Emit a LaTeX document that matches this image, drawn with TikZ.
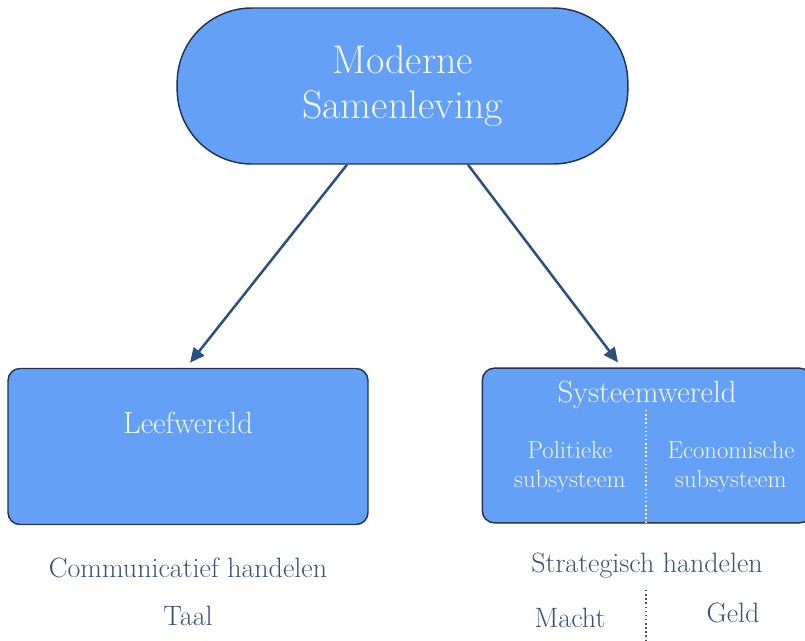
\documentclass[tikz,border=0pt]{standalone}
\usepackage{tikz}
\usetikzlibrary{arrows.meta,calc}

\definecolor{boxblue}{RGB}{100,160,246}
\definecolor{boxline}{RGB}{36,52,80}
\definecolor{arrowblue}{RGB}{46,79,127}
\definecolor{textblue}{RGB}{59,81,121}
\definecolor{paleword}{RGB}{244,246,250}

\tikzset{
  bluebox/.style={draw=boxline,line width=1.1pt,fill=boxblue,rounded corners=9pt},
  inword/.style={text=paleword,anchor=base,align=center},
  outword/.style={text=textblue,anchor=base,font=\fontsize{21}{25}\selectfont},
  pijl/.style={draw=arrowblue,line width=1.9pt,-{Triangle[length=11pt,width=10pt]}}
}

\begin{document}
\begin{tikzpicture}[x=0.75pt,y=-0.75pt]
  \useasboundingbox (0,0) rectangle (805,640);

  \node[bluebox,rounded corners=56pt,minimum width=338pt,minimum height=117pt,
        text=paleword,align=center,font=\fontsize{30}{33.75}\selectfont]
        (samen) at (402.5,86) {Moderne\\Samenleving};
  \node[bluebox,minimum width=270pt,minimum height=117pt] (leef) at (188,446.5) {};
  \node[bluebox,minimum width=247pt,minimum height=116pt] (systeem) at (647,445.5) {};

  \node[inword,font=\fontsize{23}{27}\selectfont] (leeftxt) at (188,433) {Leefwereld};
  \node[inword,font=\fontsize{23}{27}\selectfont] (systxt) at (647,402) {Systeemwereld};
  \node[inword,font=\fontsize{18.5}{21.75}\selectfont] (politiek) at (570,487) {Politieke\\subsysteem};
  \node[inword,font=\fontsize{18.5}{21.75}\selectfont] (econ) at (731,487) {Economische\\subsysteem};
  \draw[paleword,line width=1.1pt,dotted] (646,410) -- (systeem.south -| 646,0);

  \node[outword] (comm) at (188,577) {Communicatief handelen};
  \node[outword] (taal) at (188,625) {Taal};
  \node[outword] (strat) at (647,572) {Strategisch handelen};
  \node[outword] (macht) at (570,627) {Macht};
  \node[outword] (geld) at (733,622) {Geld};
  \draw[textblue,line width=1.1pt,dotted] (646,590) -- (646,640);

  \draw[pijl] ($(samen.south)+(-55.5,0)$) -- ($(leef.north)+(2,-5)$);
  \draw[pijl] ($(samen.south)+(65.5,0)$) -- ($(systeem.north)+(-29,-5)$);
\end{tikzpicture}
\end{document}
